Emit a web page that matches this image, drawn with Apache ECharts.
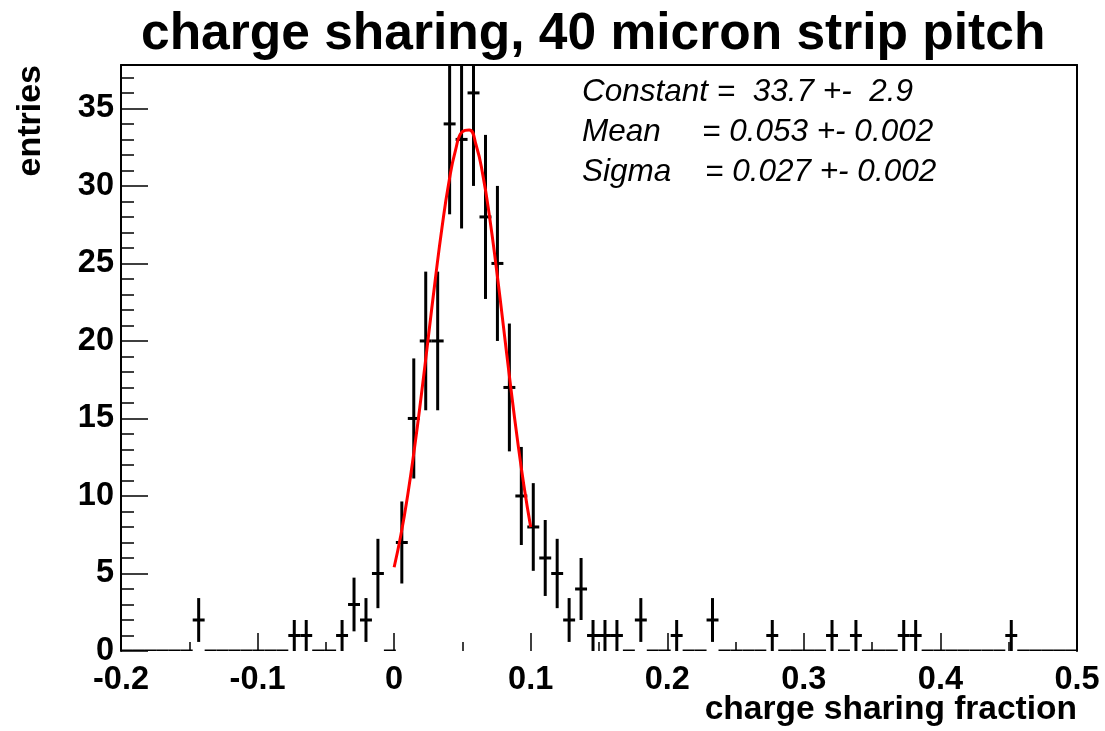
<!DOCTYPE html>
<html>
<head>
<meta charset="utf-8">
<script src="https://cdn.jsdelivr.net/npm/echarts@6/dist/echarts.min.js"></script>
<style>
html,body{margin:0;padding:0;background:#fff;}
#chart{width:1105px;height:731px;}
</style>
</head>
<body>
<div id="chart"></div>
<script>
// ---- data ----
const titleText = 'charge sharing, 40 micron strip pitch';
const xAxisName = 'charge sharing fraction';
const yAxisName = 'entries';
const xMin = -0.2, xMax = 0.5, nBins = 80;
const yMin = 0, yMax = 37.8;
// histogram counts per bin (80 bins from -0.2 to 0.5)
const counts = [
  0, 0, 0, 0, 0, 0, 2, 0, 0, 0,
  0, 0, 0, 0, 1, 1, 0, 0, 1, 3,
  2, 5, 0, 7, 15, 20, 20, 34, 33, 36,
  28, 25, 17, 10, 8, 6, 5, 2, 4, 1,
  1, 1, 0, 2, 0, 0, 1, 0, 0, 2,
  0, 0, 0, 0, 1, 0, 0, 0, 0, 1,
  0, 1, 0, 0, 0, 1, 1, 0, 0, 0,
  0, 0, 0, 0, 1, 0, 0, 0, 0, 0
];
// gaussian fit curve
const fitX = [0, 0.005, 0.01, 0.015, 0.02, 0.025, 0.03, 0.035, 0.04, 0.045, 0.05,
              0.055, 0.06, 0.065, 0.07, 0.075, 0.08, 0.085, 0.09, 0.095, 0.1];
const fitY = [5.40, 7.51, 10.10, 13.15, 16.57, 20.22, 23.87, 27.29, 30.19, 32.33, 33.50,
              33.61, 32.64, 30.68, 27.92, 24.59, 20.96, 17.29, 13.81, 10.68, 7.99];
const statsLabels = ['Constant =  33.7 +-  2.9', 'Mean', 'Sigma'];
const statsValues = ['', '= 0.053 +- 0.002', '= 0.027 +- 0.002'];

// ---- build ----
const binW = (xMax - xMin) / nBins;
const histData = counts.map((c, i) => [xMin + (i + 0.5) * binW, c]);
const fitData = fitX.map((x, i) => [x, fitY[i]]);

const FONT = 'Liberation Sans, Arial, Helvetica, sans-serif';
const chart = echarts.init(document.getElementById('chart'), null, {renderer: 'canvas'});

const statsGraphics = [];
const rowY = [92.5, 132.5, 172.5];
const valX = [0, 702, 705];
statsLabels.forEach((t, i) => {
  statsGraphics.push({type: 'text', x: 582, y: rowY[i],
    style: {text: t, font: 'italic 31.5px ' + FONT, fill: '#000', align: 'left', verticalAlign: 'middle'}});
  if (statsValues[i]) statsGraphics.push({type: 'text', x: valX[i], y: rowY[i],
    style: {text: statsValues[i], font: 'italic 31.5px ' + FONT, fill: '#000', align: 'left', verticalAlign: 'middle'}});
});

const option = {
  backgroundColor: '#fff',
  animation: false,
  title: {
    text: titleText, left: 136, top: 4,
    textStyle: {fontSize: 51.5, fontWeight: 'bold', color: '#000', fontFamily: FONT}
  },
  grid: {left: 121, right: 28, top: 65, bottom: 80, containLabel: false},
  xAxis: [{
    type: 'value', min: xMin, max: xMax, interval: 0.1,
    axisLine: {show: false, onZero: false},
    axisTick: {show: true, inside: true, length: 18, lineStyle: {color: '#000', width: 1.5}},
    minorTick: {show: true, splitNumber: 2, length: 9, lineStyle: {color: '#000', width: 1.5}},
    axisLabel: {margin: 13, fontSize: 32.5, fontWeight: 'bold', color: '#000', fontFamily: FONT},
    splitLine: {show: false}
  }, {
    type: 'value', min: xMin, max: xMax, position: 'top',
    axisLine: {show: true, onZero: false, lineStyle: {color: '#000', width: 2}},
    axisTick: {show: false}, axisLabel: {show: false}, splitLine: {show: false}
  }],
  yAxis: [{
    type: 'value', min: yMin, max: yMax, interval: 5, position: 'left',
    axisLine: {show: true, onZero: false, lineStyle: {color: '#000', width: 2}},
    axisTick: {show: true, inside: true, length: 27, lineStyle: {color: '#000', width: 1.5}},
    axisLabel: {margin: 7, fontSize: 32.5, fontWeight: 'bold', color: '#000', fontFamily: FONT, showMaxLabel: false},
    splitLine: {show: false}
  }, {
    type: 'value', min: yMin, max: yMax, interval: 1, position: 'left',
    axisLine: {show: false, onZero: false},
    axisTick: {show: true, inside: true, length: 13, lineStyle: {color: '#000', width: 1.5}},
    axisLabel: {show: false}, splitLine: {show: false}
  }, {
    type: 'value', min: yMin, max: yMax, position: 'right',
    axisLine: {show: true, onZero: false, lineStyle: {color: '#000', width: 2}},
    axisTick: {show: false}, axisLabel: {show: false}, splitLine: {show: false}
  }],
  graphic: [
    {type: 'text', x: 31, y: 65, rotation: Math.PI / 2,
     style: {text: yAxisName, font: 'bold 34px ' + FONT, fill: '#000', align: 'right', verticalAlign: 'middle'}},
    {type: 'text', x: 1077, y: 710,
     style: {text: xAxisName, font: 'bold 33.5px ' + FONT, fill: '#000', align: 'right', verticalAlign: 'middle'}}
  ].concat(statsGraphics),
  series: [{
    type: 'custom',
    xAxisIndex: 0, yAxisIndex: 0,
    data: histData,
    clip: true,
    renderItem: function (params, api) {
      const x = api.value(0), n = api.value(1);
      const hw = binW / 2;
      const pL = api.coord([x - hw, n]);
      const pR = api.coord([x + hw, n]);
      const children = [{
        type: 'line',
        shape: {x1: pL[0], y1: pL[1], x2: pR[0], y2: pR[1]},
        style: {stroke: '#000', lineWidth: 3}
      }];
      if (n > 0) {
        const e = Math.sqrt(n);
        const lo = api.coord([x, Math.max(yMin, n - e)]);
        const hi = api.coord([x, Math.min(yMax, n + e)]);
        children.push({
          type: 'line',
          shape: {x1: lo[0], y1: lo[1], x2: hi[0], y2: hi[1]},
          style: {stroke: '#000', lineWidth: 3}
        });
      }
      return {type: 'group', children: children};
    }
  }, {
    type: 'line',
    xAxisIndex: 0, yAxisIndex: 0,
    data: fitData,
    smooth: true,
    showSymbol: false,
    lineStyle: {color: '#ff0000', width: 3},
    z: 5
  }]
};
chart.setOption(option);
</script>
</body>
</html>
